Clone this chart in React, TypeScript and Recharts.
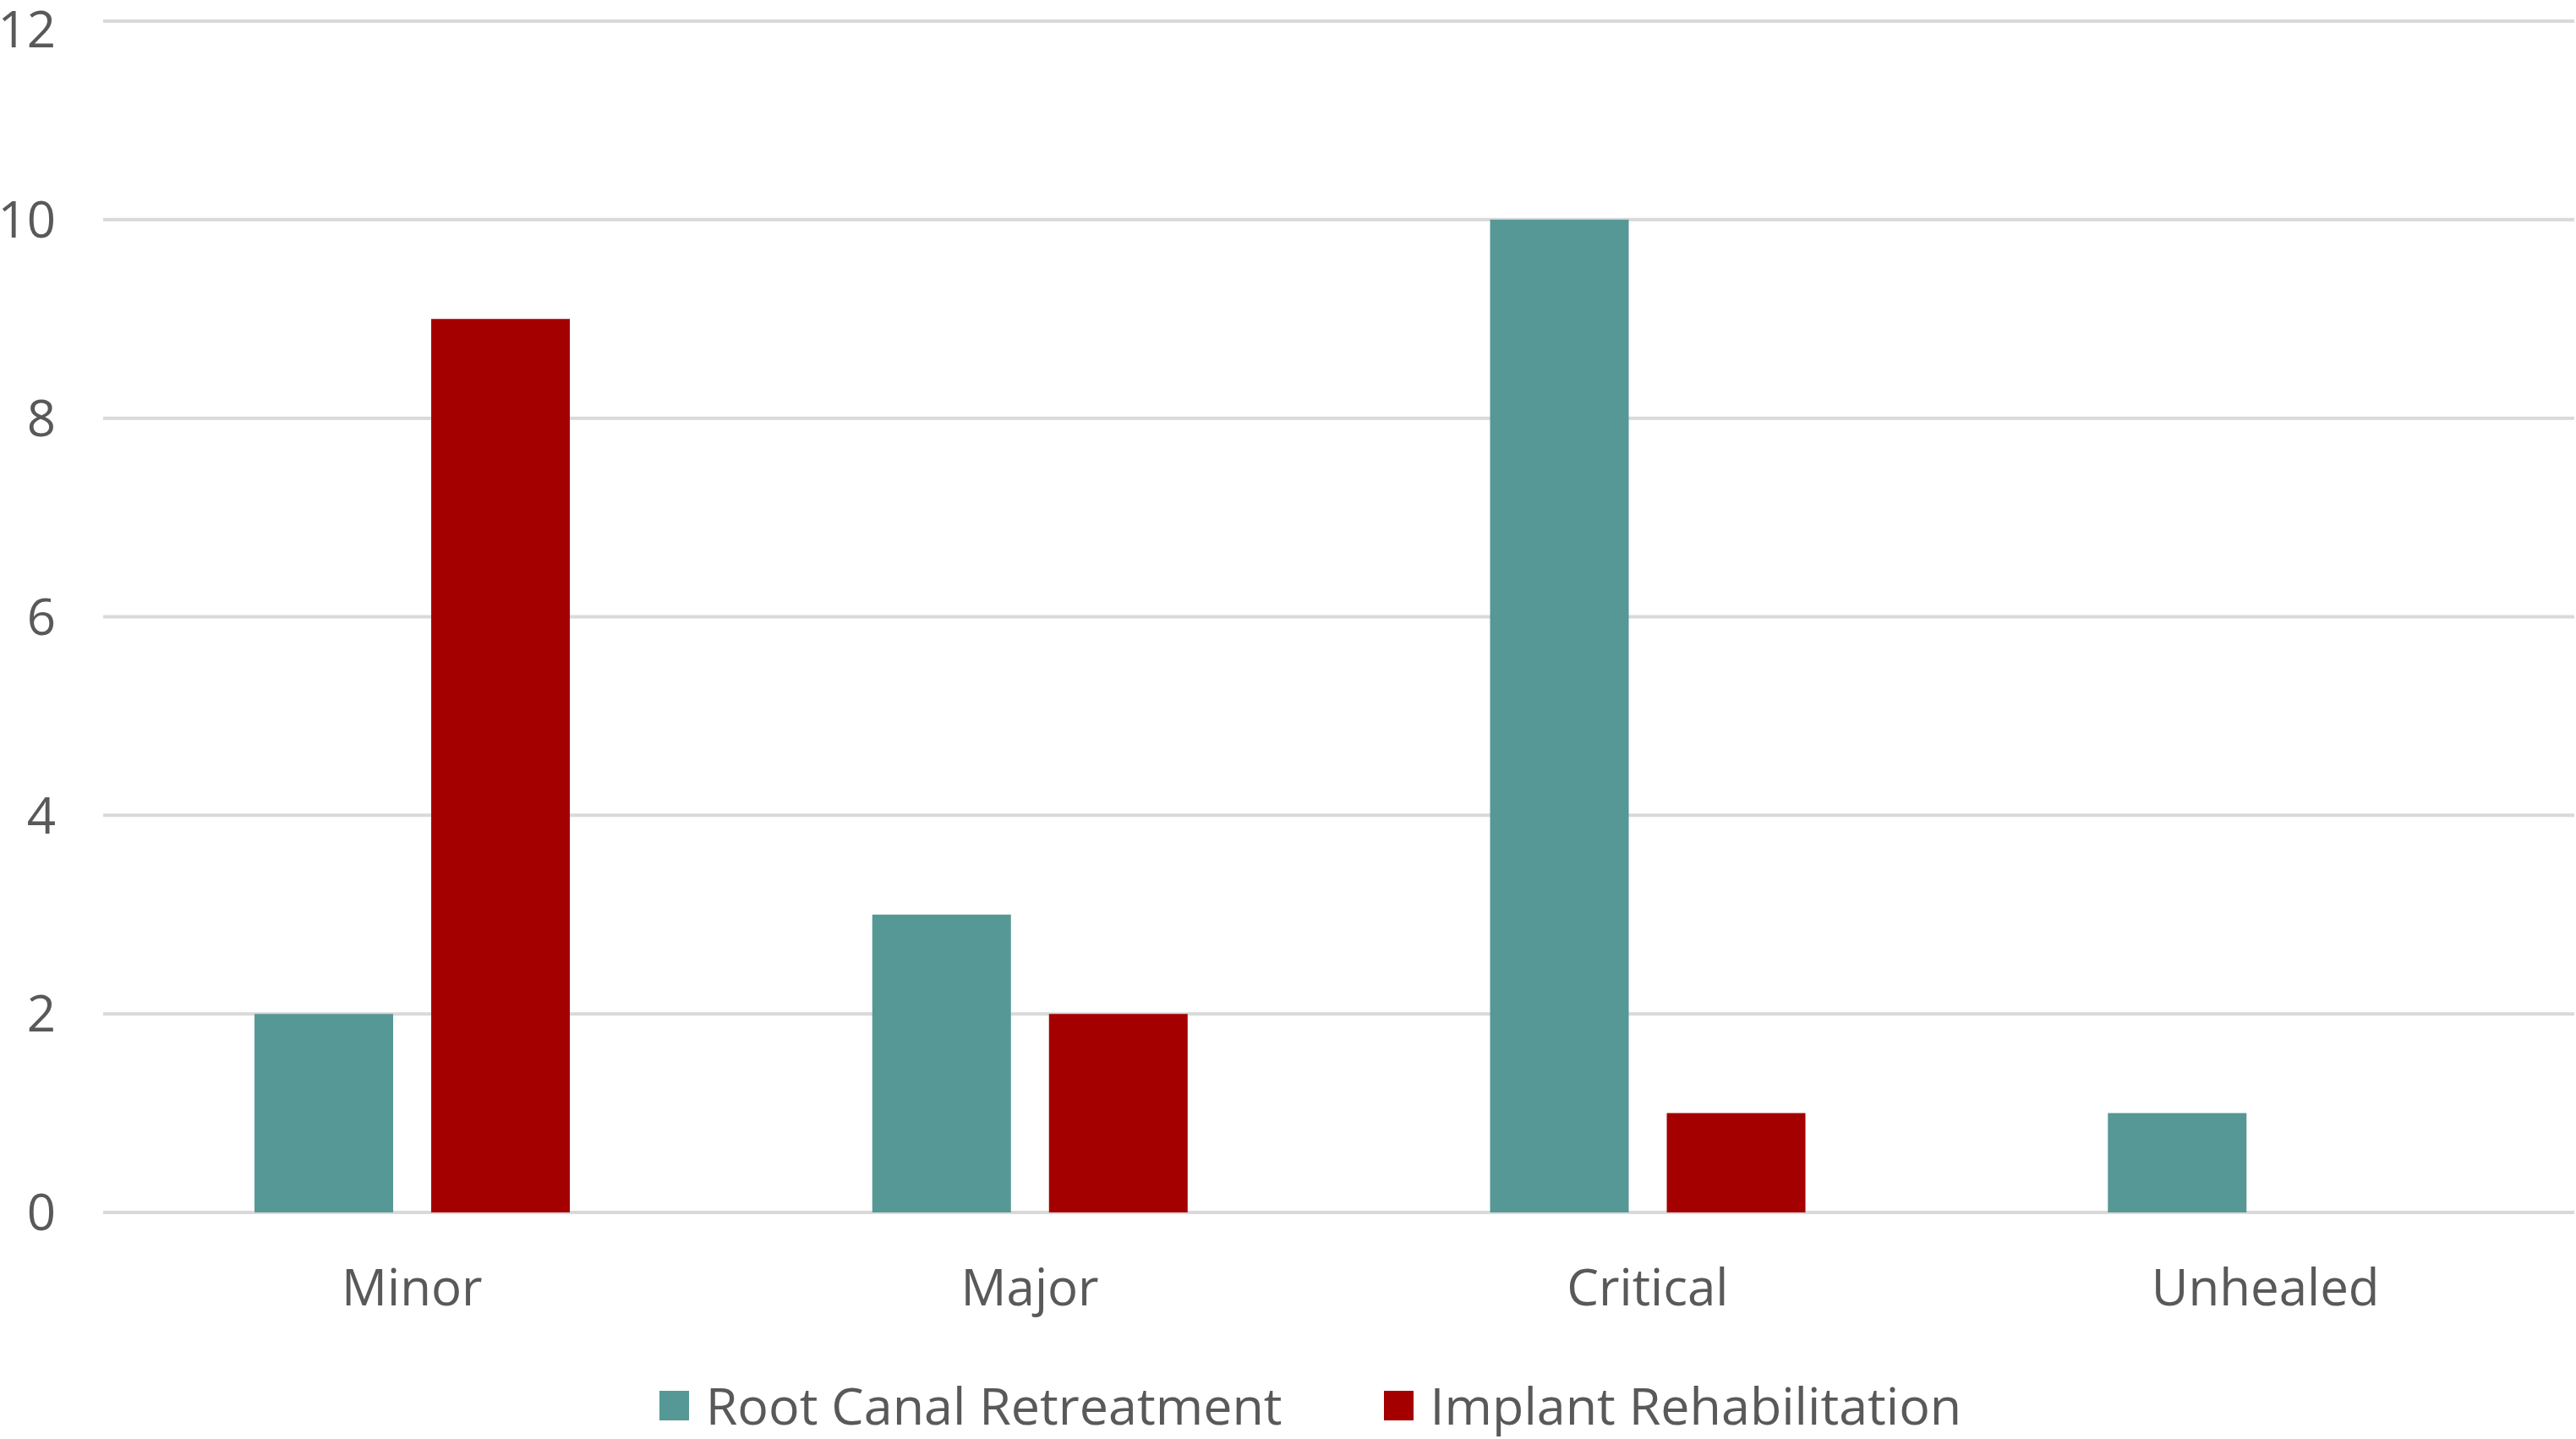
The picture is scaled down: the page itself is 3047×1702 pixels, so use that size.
import React from 'react';
import { BarChart, Bar, XAxis, YAxis, CartesianGrid, Legend } from 'recharts';

const categories = ['Minor', 'Major', 'Critical', 'Unhealed'];
const rootCanal = [2, 3, 10, 1];
const implant = [9, 2, 1, 0];
const yTicks = [0, 2, 4, 6, 8, 10, 12];
const seriesOrder = ['Root Canal Retreatment', 'Implant Rehabilitation'];

const data = categories.map((name, i) => ({
  name,
  rootCanal: rootCanal[i],
  implant: implant[i],
}));

const FONT = '"Open Sans", sans-serif';
const TEXT = '#595959';

function LegendContent(props: any) {
  const payload = [...(props.payload || [])].sort(
    (a: any, b: any) => seriesOrder.indexOf(a.value) - seriesOrder.indexOf(b.value)
  );
  return (
    <div
      style={{
        display: 'flex',
        justifyContent: 'center',
        alignItems: 'center',
        height: 80,
        gap: 120,
        fontFamily: FONT,
        fontSize: 61,
        lineHeight: 1.2,
        color: TEXT,
        paddingLeft: 55,
      }}
    >
      {payload.map((p: any) => (
        <div key={p.value} style={{ display: 'flex', alignItems: 'center' }}>
          <span style={{ width: 35, height: 35, background: p.color, marginRight: 20, display: 'inline-block' }} />
          <span>{p.value}</span>
        </div>
      ))}
    </div>
  );
}

export default function App() {
  return (
    <div style={{ position: 'absolute', left: 0, top: 0, width: 3047, height: 1702, background: '#fff' }}>
      <BarChart
        width={3047}
        height={1702}
        data={data}
        margin={{ top: 25, right: 2, bottom: 0, left: 0 }}
        barCategoryGap="24.5%"
        barGap={45}
      >
        <CartesianGrid vertical={false} stroke="#D9D9D9" strokeWidth={4} />
        <XAxis
          dataKey="name"
          axisLine={false}
          tickLine={false}
          tickSize={0}
          tickMargin={67}
          height={188}
          tick={{ fill: TEXT, fontSize: 60, fontFamily: FONT }}
        />
        <YAxis
          domain={[0, 12]}
          ticks={yTicks}
          axisLine={false}
          tickLine={false}
          tickSize={0}
          tickMargin={56}
          width={122}
          tick={{ fill: TEXT, fontSize: 60, fontFamily: FONT }}
        />
        <Legend verticalAlign="bottom" content={<LegendContent />} />
        <Bar dataKey="rootCanal" name="Root Canal Retreatment" fill="#569896" isAnimationActive={false} />
        <Bar dataKey="implant" name="Implant Rehabilitation" fill="#A50000" isAnimationActive={false} />
      </BarChart>
    </div>
  );
}
